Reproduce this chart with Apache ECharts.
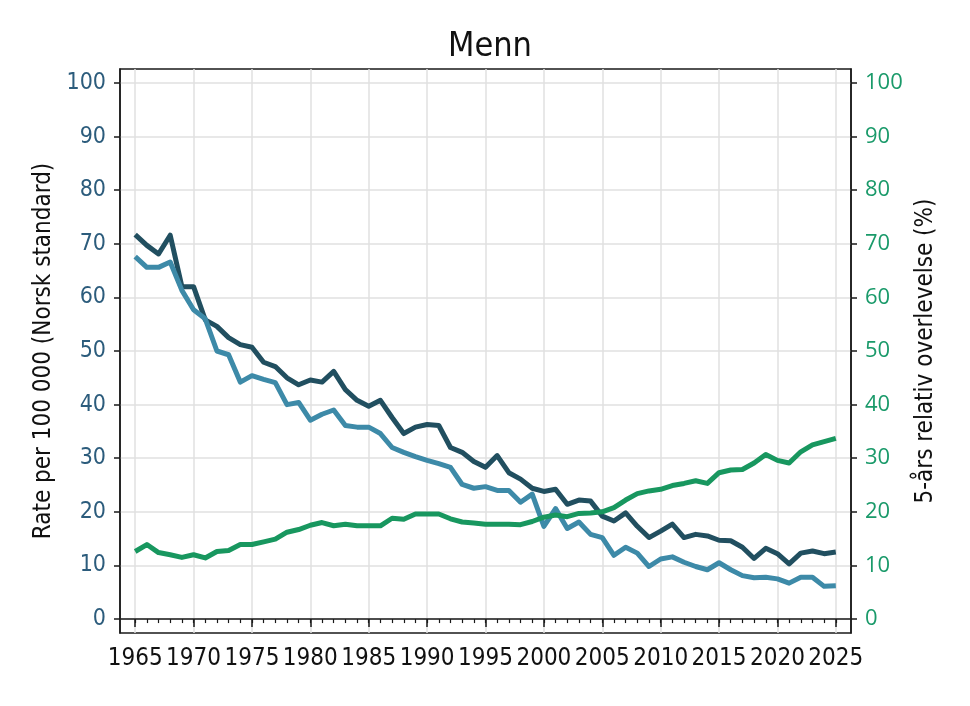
<!DOCTYPE html>
<html>
<head>
<meta charset="utf-8">
<script src="https://cdn.jsdelivr.net/npm/echarts@6/dist/echarts.min.js"></script>
<style>
  html, body { margin: 0; padding: 0; background: #fff; }
  #main { width: 970px; height: 706px; }
</style>
</head>
<body>
<div id="main"></div>
<script>
// years on the x axis
var years = [];
for (var y = 1965; y <= 2025; y++) years.push(y);

// Rate per 100 000 (dark line)
var incidence = [71.7, 69.7, 68.1, 71.6, 62.0, 62.0, 55.8, 54.6, 52.5, 51.2,
  50.7, 47.9, 47.1, 45.0, 43.7, 44.6, 44.2, 46.2, 42.8, 40.8,
  39.7, 40.8, 37.6, 34.6, 35.8, 36.3, 36.1, 32.0, 31.1, 29.4,
  28.3, 30.5, 27.3, 26.1, 24.4, 23.8, 24.2, 21.4, 22.2, 22.0,
  19.2, 18.3, 19.8, 17.3, 15.2, 16.4, 17.7, 15.2, 15.8, 15.5,
  14.7, 14.6, 13.4, 11.3, 13.2, 12.2, 10.3, 12.3, 12.7, 12.2, 12.5];

// Rate per 100 000 (light line)
var mortality = [67.6, 65.6, 65.6, 66.6, 61.3, 57.7, 56.0, 50.0, 49.3, 44.2,
  45.4, 44.7, 44.1, 40.0, 40.4, 37.1, 38.2, 39.0, 36.1, 35.8,
  35.8, 34.6, 32.0, 31.1, 30.3, 29.6, 29.0, 28.3, 25.1, 24.4,
  24.7, 24.0, 24.0, 21.8, 23.3, 17.3, 20.6, 16.9, 18.1, 15.8,
  15.2, 11.9, 13.4, 12.3, 9.8, 11.2, 11.6, 10.6, 9.8, 9.2,
  10.5, 9.2, 8.1, 7.7, 7.8, 7.5, 6.7, 7.8, 7.8, 6.1, 6.2];

// 5-års relativ overlevelse (%)
var survival = [12.6, 13.9, 12.4, 12.0, 11.5, 12.0, 11.4, 12.6, 12.8, 13.9,
  13.9, 14.4, 14.9, 16.2, 16.7, 17.5, 18.0, 17.4, 17.7, 17.4,
  17.4, 17.4, 18.8, 18.6, 19.6, 19.6, 19.6, 18.7, 18.1, 17.9,
  17.7, 17.7, 17.7, 17.6, 18.2, 19.0, 19.4, 19.1, 19.7, 19.8,
  20.0, 20.8, 22.2, 23.4, 23.9, 24.2, 24.9, 25.3, 25.8, 25.3,
  27.3, 27.8, 27.9, 29.1, 30.7, 29.6, 29.1, 31.2, 32.5, 33.1, 33.7];

// tick labels
var yearTicks = [1965, 1970, 1975, 1980, 1985, 1990, 1995, 2000, 2005, 2010, 2015, 2020, 2025];
var valueTicks = [0, 10, 20, 30, 40, 50, 60, 70, 80, 90, 100];

function pairs(vals) {
  return years.map(function (yr, i) { return [yr, vals[i]]; });
}

var narrow = "'Liberation Sans Narrow', 'DejaVu Sans Condensed', sans-serif";
var axisColor = '#1a1a1a';
var gridColor = '#e0e0e0';

var chart = echarts.init(document.getElementById('main'));

chart.setOption({
  animation: false,
  backgroundColor: '#fff',
  title: {
    text: 'Menn',
    left: 485,
    textAlign: 'center',
    top: 25,
    textStyle: { fontFamily: narrow, fontSize: 34, fontWeight: 'normal', color: '#111' }
  },
  grid: {
    left: 120, right: 119, top: 69, bottom: 73,
    show: true, borderColor: axisColor, borderWidth: 1.5, backgroundColor: 'transparent'
  },
  xAxis: [{
    type: 'value', min: 1963.7, max: 2026.3, position: 'bottom',
    axisLine: { show: true, lineStyle: { color: axisColor, width: 1.5 } },
    axisTick: { show: true, length: 8, customValues: yearTicks, lineStyle: { color: axisColor, width: 1.5 } },
    axisLabel: {
      customValues: yearTicks, margin: 14, fontFamily: narrow, fontSize: 24, color: '#111',
      showMinLabel: true, showMaxLabel: true, hideOverlap: false,
      formatter: function (v) { return String(v); }
    },
    splitLine: { show: true, lineStyle: { color: gridColor, width: 1.5 } }
  }, {
    type: 'value', min: 1963.7, max: 2026.3, position: 'bottom',
    axisLine: { show: false },
    axisTick: { show: true, length: 4, customValues: years, lineStyle: { color: axisColor, width: 1.2 } },
    axisLabel: { show: false },
    splitLine: { show: false }
  }],
  yAxis: [{
    type: 'value', min: -2.6, max: 102.6, position: 'left',
    name: 'Rate per 100 000 (Norsk standard)', nameLocation: 'middle', nameGap: 61,
    nameTextStyle: { fontFamily: narrow, fontSize: 24, color: '#111' },
    axisLine: { show: true, lineStyle: { color: axisColor, width: 1.5 } },
    axisTick: { show: true, length: 6, customValues: valueTicks, lineStyle: { color: axisColor, width: 1.5 } },
    axisLabel: { customValues: valueTicks, margin: 14, fontFamily: narrow, fontSize: 23, color: '#2c5c7c' },
    splitLine: { show: true, lineStyle: { color: gridColor, width: 1.5 } }
  }, {
    type: 'value', min: -2.6, max: 102.6, position: 'right',
    name: '5-års relativ overlevelse (%)', nameLocation: 'middle', nameGap: 62,
    nameRotate: 90,
    nameTextStyle: { fontFamily: narrow, fontSize: 24, color: '#111' },
    axisLine: { show: true, lineStyle: { color: axisColor, width: 1.5 } },
    axisTick: { show: true, length: 6, customValues: valueTicks, lineStyle: { color: axisColor, width: 1.5 } },
    axisLabel: { customValues: valueTicks, margin: 14, fontFamily: "'Open Sans', sans-serif", fontSize: 22, color: '#1a9a6a' },
    splitLine: { show: false }
  }],
  series: [{
    name: 'Insidens', type: 'line', xAxisIndex: 0, yAxisIndex: 0,
    data: pairs(incidence), showSymbol: false,
    lineStyle: { color: '#214f60', width: 5, join: 'round' }, itemStyle: { color: '#214f60' }
  }, {
    name: 'Dødelighet', type: 'line', xAxisIndex: 0, yAxisIndex: 0,
    data: pairs(mortality), showSymbol: false,
    lineStyle: { color: '#3d8aa8', width: 5, join: 'round' }, itemStyle: { color: '#3d8aa8' }
  }, {
    name: 'Overlevelse', type: 'line', xAxisIndex: 0, yAxisIndex: 1,
    data: pairs(survival), showSymbol: false,
    lineStyle: { color: '#18975f', width: 5, join: 'round' }, itemStyle: { color: '#18975f' }
  }]
});
</script>
</body>
</html>
